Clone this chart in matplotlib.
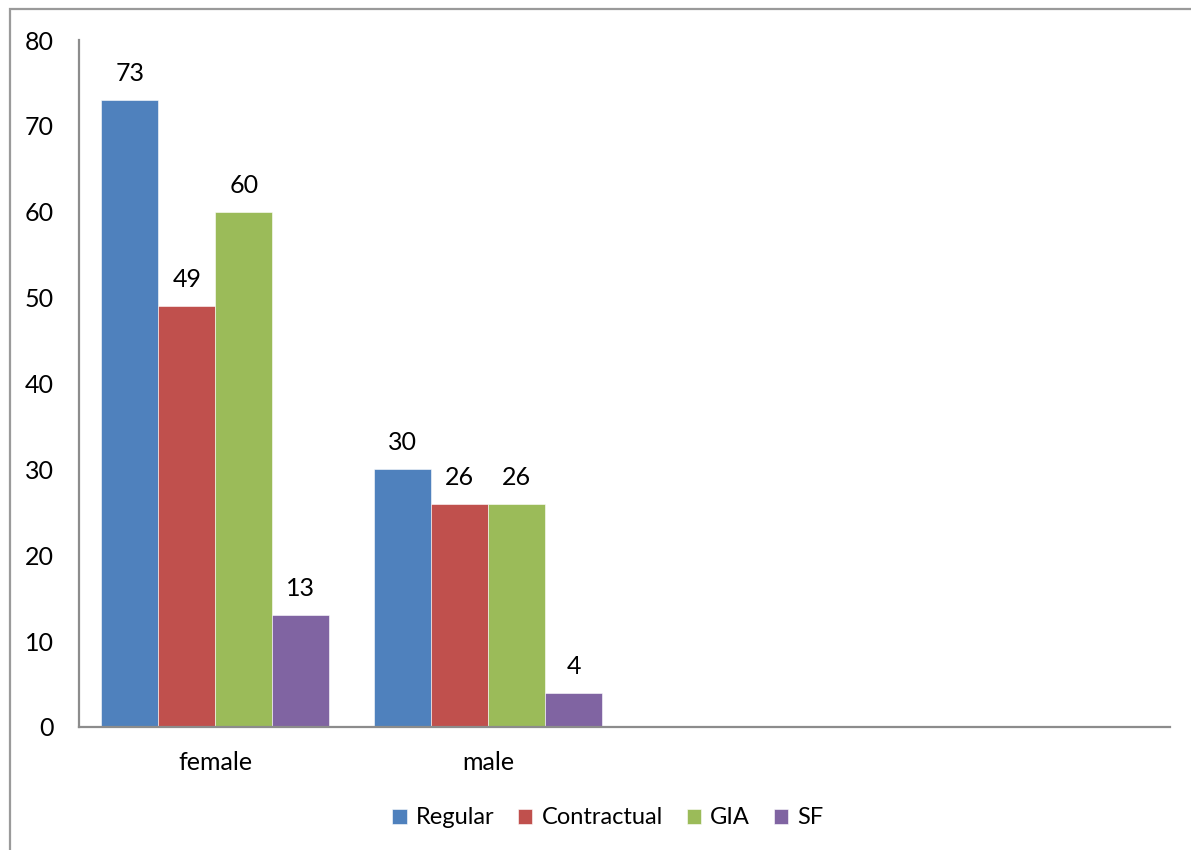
import numpy as np
import matplotlib
matplotlib.use('Agg')
import matplotlib.pyplot as plt
from matplotlib.patches import Rectangle

plt.rcParams['font.family'] = ['Lato', 'DejaVu Sans']

# data
categories = ['female', 'male']
series = ['Regular', 'Contractual', 'GIA', 'SF']
regular = [73, 30]
contractual = [49, 26]
gia = [60, 26]
sf = [13, 4]
colors = ['#4F81BD', '#C0504D', '#9BBB59', '#8064A2']

fs = 18

fig = plt.figure(figsize=(11.91, 8.5), dpi=100)
ax = fig.add_axes([79 / 1191, 1 - 727 / 850, (1170 - 79) / 1191, (727 - 40) / 850])

# outer chart frame like the Excel chart area
fig.patches.append(Rectangle((10 / 1191, -0.1), 1.2, 1 - 9 / 850 + 0.1,
                             transform=fig.transFigure, fill=False,
                             edgecolor='#9a9a9a', linewidth=1.6))

x = np.arange(len(categories))
width = 0.209
values = [regular, contractual, gia, sf]
for i, (name, vals) in enumerate(zip(series, values)):
    pos = x - 1.5 * width + i * width
    bars = ax.bar(pos, vals, width, color=colors[i], label=name,
                  edgecolor='white', linewidth=0.4)
    for b, v in zip(bars, vals):
        ax.annotate(str(v), (b.get_x() + b.get_width() / 2, v),
                    xytext=(0, 19), textcoords='offset points',
                    ha='center', va='center', fontsize=fs)

ax.set_xlim(-0.5, 3.5)
ax.set_ylim(0, 80)
ax.set_yticks(range(0, 81, 10))
ax.set_xticks(x)
ax.set_xticklabels(categories)
ax.tick_params(axis='both', length=0, labelsize=fs)
ax.tick_params(axis='y', pad=18)
ax.tick_params(axis='x', pad=17)

for s in ['top', 'right']:
    ax.spines[s].set_visible(False)
for s in ['left', 'bottom']:
    ax.spines[s].set_color('#8c8c8c')
    ax.spines[s].set_linewidth(1.6)

fig.legend(loc='center', bbox_to_anchor=(608 / 1191, 1 - 818 / 850), ncol=4,
           frameon=False, fontsize=17, handlelength=0.6, handleheight=0.6,
           handletextpad=0.4, columnspacing=1.0)

fig.savefig('out.png', dpi=100)
